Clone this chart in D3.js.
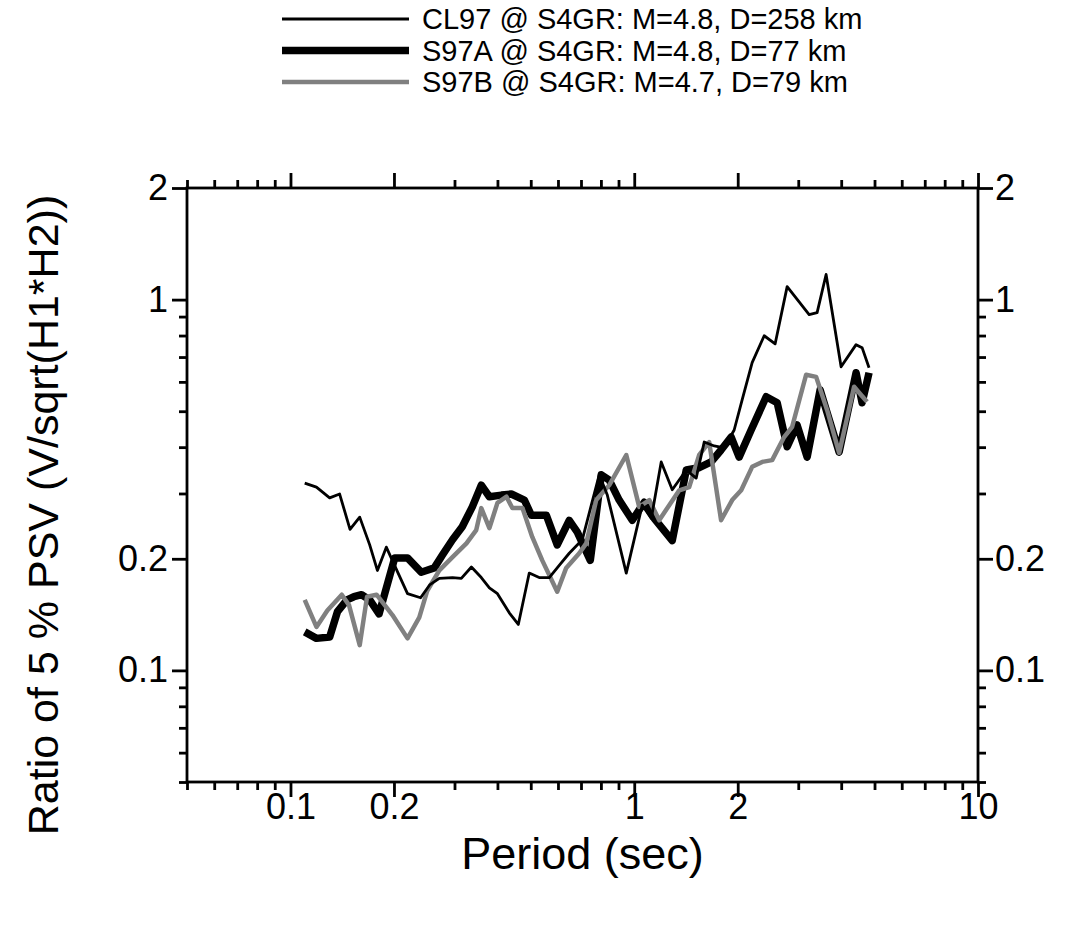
<!DOCTYPE html>
<html>
<head>
<meta charset="utf-8">
<script src="https://cdn.jsdelivr.net/npm/d3@7"></script>
<style>
  body { margin: 0; background: #fff; }
  text { font-family: "Liberation Sans", Arial, Helvetica, sans-serif; fill: #000; }
</style>
</head>
<body>
<svg id="chart"></svg>
<script>
// Ratio curves (period in sec, ratio V/sqrt(H1*H2))
const cl97Period = [0.110, 0.119, 0.130, 0.139, 0.149, 0.159, 0.170, 0.179, 0.190, 0.205, 0.219, 0.239, 0.254, 0.271, 0.296, 0.314, 0.336, 0.359, 0.379, 0.400, 0.433, 0.460, 0.495, 0.529, 0.566, 0.605, 0.647, 0.706, 0.750, 0.791, 0.835, 0.948, 1.055, 1.121, 1.198, 1.290, 1.417, 1.514, 1.598, 1.709, 1.826, 1.953, 2.061, 2.203, 2.388, 2.570, 2.785, 3.227, 3.404, 3.615, 3.997, 4.419, 4.601, 4.820];
const cl97Ratio = [0.320, 0.312, 0.292, 0.299, 0.240, 0.259, 0.218, 0.186, 0.215, 0.184, 0.161, 0.157, 0.170, 0.177, 0.178, 0.177, 0.190, 0.178, 0.167, 0.161, 0.143, 0.133, 0.183, 0.178, 0.178, 0.192, 0.207, 0.225, 0.279, 0.337, 0.297, 0.183, 0.279, 0.257, 0.365, 0.307, 0.347, 0.330, 0.413, 0.403, 0.398, 0.445, 0.537, 0.676, 0.799, 0.760, 1.084, 0.911, 0.922, 1.169, 0.659, 0.756, 0.742, 0.655];

const s97aPeriod = [0.110, 0.119, 0.130, 0.137, 0.146, 0.153, 0.161, 0.170, 0.181, 0.201, 0.219, 0.240, 0.262, 0.277, 0.296, 0.316, 0.338, 0.359, 0.379, 0.411, 0.439, 0.479, 0.502, 0.555, 0.597, 0.647, 0.683, 0.745, 0.802, 0.846, 0.904, 0.987, 1.069, 1.143, 1.290, 1.417, 1.545, 1.674, 1.789, 1.914, 2.019, 2.188, 2.420, 2.605, 2.785, 2.977, 3.184, 3.473, 3.945, 4.419, 4.601, 4.820];
const s97aRatio = [0.127, 0.122, 0.123, 0.144, 0.155, 0.158, 0.160, 0.155, 0.142, 0.201, 0.201, 0.184, 0.189, 0.205, 0.225, 0.244, 0.276, 0.316, 0.294, 0.297, 0.299, 0.288, 0.262, 0.262, 0.218, 0.254, 0.236, 0.198, 0.337, 0.326, 0.288, 0.254, 0.284, 0.257, 0.224, 0.347, 0.352, 0.365, 0.393, 0.426, 0.376, 0.445, 0.547, 0.527, 0.401, 0.459, 0.376, 0.571, 0.388, 0.635, 0.527, 0.635];

const s97bPeriod = [0.110, 0.119, 0.128, 0.141, 0.148, 0.159, 0.167, 0.178, 0.188, 0.198, 0.219, 0.237, 0.250, 0.271, 0.296, 0.325, 0.347, 0.359, 0.379, 0.400, 0.425, 0.442, 0.473, 0.505, 0.540, 0.597, 0.634, 0.692, 0.725, 0.775, 0.846, 0.948, 1.034, 1.106, 1.182, 1.264, 1.352, 1.445, 1.545, 1.652, 1.789, 1.927, 2.047, 2.203, 2.356, 2.519, 2.729, 2.880, 3.162, 3.382, 3.639, 3.945, 4.361, 4.570, 4.757];
const s97bRatio = [0.155, 0.131, 0.145, 0.160, 0.150, 0.117, 0.158, 0.160, 0.150, 0.141, 0.122, 0.139, 0.164, 0.186, 0.202, 0.220, 0.239, 0.274, 0.242, 0.283, 0.294, 0.274, 0.274, 0.229, 0.198, 0.163, 0.189, 0.207, 0.220, 0.288, 0.316, 0.381, 0.276, 0.288, 0.254, 0.279, 0.306, 0.312, 0.381, 0.413, 0.254, 0.288, 0.306, 0.354, 0.365, 0.369, 0.426, 0.454, 0.627, 0.619, 0.504, 0.386, 0.582, 0.553, 0.530];

const legendLabels = [
  "CL97 @ S4GR: M=4.8, D=258 km",
  "S97A @ S4GR: M=4.8, D=77 km",
  "S97B @ S4GR: M=4.7, D=79 km",
];

// Tick values of the log axes
const xMajorTicks = [0.1, 0.2, 1, 2, 10];
const xMinorTicks = [0.05, 0.06, 0.07, 0.08, 0.09, 0.3, 0.4, 0.5, 0.6, 0.7, 0.8, 0.9, 3, 4, 5, 6, 7, 8, 9];
const yMajorTicks = [0.1, 0.2, 1, 2];
const yMinorTicks = [0.05, 0.06, 0.07, 0.08, 0.09, 0.3, 0.4, 0.5, 0.6, 0.7, 0.8, 0.9];

// Plot frame
const frame = { left: 187, right: 978, top: 188, bottom: 782 };

const svg = d3.select("#chart").attr("width", 1070).attr("height", 928);

const x = d3.scaleLog().domain([0.05, 10]).range([frame.left, frame.right]);
const y = d3.scaleLog().domain([0.05, 2]).range([frame.bottom, frame.top]);

const fmt = d3.format("~g");
const majorLen = 15, minorLen = 8, tickFont = 36;

// Draws ticks (major with labels where asked) on one side of the frame
function drawAxis(axisFn, scale, pos, major, minor, labels, pad) {
  const gMinor = svg.append("g").attr("transform", pos)
    .call(axisFn(scale).tickValues(minor).tickSize(minorLen).tickSizeOuter(0).tickFormat(""));
  const gMajor = svg.append("g").attr("transform", pos)
    .call(axisFn(scale).tickValues(major).tickSize(majorLen).tickSizeOuter(0)
      .tickPadding(pad).tickFormat(labels ? fmt : ""));
  [gMinor, gMajor].forEach((g) => {
    g.select(".domain").remove();
    g.selectAll("line").attr("stroke", "#000").attr("stroke-width", 2.8);
    g.selectAll("text").style("font-size", tickFont + "px").attr("fill", "#000");
  });
}

drawAxis(d3.axisBottom, x, `translate(0,${frame.bottom})`, xMajorTicks, xMinorTicks, true, -4);
drawAxis(d3.axisTop, x, `translate(0,${frame.top})`, xMajorTicks, xMinorTicks, false, 0);
drawAxis(d3.axisLeft, y, `translate(${frame.left},0)`, yMajorTicks, yMinorTicks, true, 4);
drawAxis(d3.axisRight, y, `translate(${frame.right},0)`, yMajorTicks, yMinorTicks, true, 2);

// Frame box
svg.append("rect")
  .attr("x", frame.left).attr("y", frame.top)
  .attr("width", frame.right - frame.left).attr("height", frame.bottom - frame.top)
  .attr("fill", "none").attr("stroke", "#000").attr("stroke-width", 2.8);

// Series definitions
const series = [
  { period: s97aPeriod, ratio: s97aRatio, color: "#000", width: 7.5 },
  { period: s97bPeriod, ratio: s97bRatio, color: "#808080", width: 4.5 },
  { period: cl97Period, ratio: cl97Ratio, color: "#000", width: 2.8 },
];

const line = d3.line().x((d) => x(d[0])).y((d) => y(d[1]));

series.forEach((s) => {
  svg.append("path")
    .datum(d3.zip(s.period, s.ratio))
    .attr("d", line)
    .attr("fill", "none")
    .attr("stroke", s.color)
    .attr("stroke-width", s.width)
    .attr("stroke-linejoin", "round");
});

// Legend (same order as the labels: CL97, S97A, S97B)
const legendStyle = [
  { color: "#000", width: 2.8 },
  { color: "#000", width: 7.5 },
  { color: "#808080", width: 4.5 },
];
const legendY = d3.scalePoint().domain(legendLabels).range([19, 82]);

legendLabels.forEach((label, i) => {
  svg.append("line")
    .attr("x1", 282).attr("x2", 409)
    .attr("y1", legendY(label)).attr("y2", legendY(label))
    .attr("stroke", legendStyle[i].color)
    .attr("stroke-width", legendStyle[i].width);
  svg.append("text")
    .attr("x", 422).attr("y", legendY(label))
    .attr("dy", "0.36em")
    .style("font-size", "29px")
    .text(label);
});

// Axis titles
svg.append("text")
  .attr("x", (frame.left + frame.right) / 2).attr("y", 869)
  .attr("text-anchor", "middle")
  .style("font-size", "45px")
  .text("Period (sec)");

svg.append("text")
  .attr("transform", "translate(58,515) rotate(-90)")
  .attr("text-anchor", "middle")
  .style("font-size", "43px")
  .text("Ratio of 5 % PSV (V/sqrt(H1*H2))");
</script>
</body>
</html>
